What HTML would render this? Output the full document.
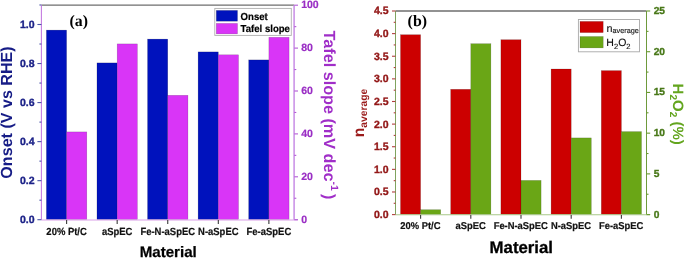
<!DOCTYPE html>
<html><head><meta charset="utf-8"><style>
html,body{margin:0;padding:0;background:#fff;width:685px;height:259px;overflow:hidden}
svg{display:block;will-change:transform}
text{font-family:"Liberation Sans",sans-serif;text-rendering:geometricPrecision}
.tl{font-size:10.5px;font-weight:bold}
.xl{font-size:9.45px;font-weight:bold;fill:#111}
.xt{font-weight:bold;fill:#000}
.yt{font-weight:bold}
.lab{font-family:"Liberation Serif",serif;font-weight:bold;font-size:15.5px;fill:#000}
.lg{font-size:9.6px;font-weight:bold;fill:#000}
.lgr{fill:#111;stroke:#111;stroke-width:0.12}
.bar{stroke:#000;stroke-opacity:0.28;stroke-width:0.5}
</style></head><body>
<svg width="685" height="259" viewBox="0 0 685 259">
<rect x="46.4" y="30.1" width="20.2" height="189.35" fill="#0012bd" class="bar"/>
<rect x="96.97" y="62.9" width="20.2" height="156.55" fill="#0012bd" class="bar"/>
<rect x="147.54" y="39.1" width="20.2" height="180.35" fill="#0012bd" class="bar"/>
<rect x="198.11" y="51.9" width="20.2" height="167.55" fill="#0012bd" class="bar"/>
<rect x="248.68" y="59.9" width="20.2" height="159.55" fill="#0012bd" class="bar"/>
<rect x="66.6" y="131.9" width="20.2" height="87.55" fill="#d935f7" class="bar"/>
<rect x="117.17" y="43.9" width="20.2" height="175.55" fill="#d935f7" class="bar"/>
<rect x="167.74" y="95.3" width="20.2" height="124.15" fill="#d935f7" class="bar"/>
<rect x="218.31" y="54.8" width="20.2" height="164.65" fill="#d935f7" class="bar"/>
<rect x="268.88" y="37.3" width="20.2" height="182.15" fill="#d935f7" class="bar"/>
<line x1="41.4" y1="5.2" x2="294.3" y2="5.2" stroke="#6e6e6e" stroke-width="1.3"/>
<line x1="41.4" y1="5.2" x2="41.4" y2="219.7" stroke="#c57ce0" stroke-width="1.1"/>
<line x1="294.1" y1="5.2" x2="294.1" y2="219.7" stroke="#c88de6" stroke-width="1.5"/>
<line x1="41.4" y1="219.95" x2="297.8" y2="219.95" stroke="#d9a0e8" stroke-width="1.1"/>
<line x1="37.4" y1="219.7" x2="41.4" y2="219.7" stroke="#4a55a8" stroke-width="1.1"/>
<line x1="39.4" y1="200.18" x2="41.4" y2="200.18" stroke="#4a55a8" stroke-width="1.1"/>
<line x1="37.4" y1="180.66" x2="41.4" y2="180.66" stroke="#4a55a8" stroke-width="1.1"/>
<line x1="39.4" y1="161.14" x2="41.4" y2="161.14" stroke="#4a55a8" stroke-width="1.1"/>
<line x1="37.4" y1="141.62" x2="41.4" y2="141.62" stroke="#4a55a8" stroke-width="1.1"/>
<line x1="39.4" y1="122.1" x2="41.4" y2="122.1" stroke="#4a55a8" stroke-width="1.1"/>
<line x1="37.4" y1="102.58" x2="41.4" y2="102.58" stroke="#4a55a8" stroke-width="1.1"/>
<line x1="39.4" y1="83.06" x2="41.4" y2="83.06" stroke="#4a55a8" stroke-width="1.1"/>
<line x1="37.4" y1="63.54" x2="41.4" y2="63.54" stroke="#4a55a8" stroke-width="1.1"/>
<line x1="39.4" y1="44.02" x2="41.4" y2="44.02" stroke="#4a55a8" stroke-width="1.1"/>
<line x1="37.4" y1="24.5" x2="41.4" y2="24.5" stroke="#4a55a8" stroke-width="1.1"/>
<line x1="39.4" y1="4.98" x2="41.4" y2="4.98" stroke="#4a55a8" stroke-width="1.1"/>
<text x="34.5" y="223.1" text-anchor="end" class="tl" fill="#1c2288" stroke="#1c2288" stroke-width="0.35">0.0</text>
<text x="34.5" y="184.06" text-anchor="end" class="tl" fill="#1c2288" stroke="#1c2288" stroke-width="0.35">0.2</text>
<text x="34.5" y="145.02" text-anchor="end" class="tl" fill="#1c2288" stroke="#1c2288" stroke-width="0.35">0.4</text>
<text x="34.5" y="105.98" text-anchor="end" class="tl" fill="#1c2288" stroke="#1c2288" stroke-width="0.35">0.6</text>
<text x="34.5" y="66.94" text-anchor="end" class="tl" fill="#1c2288" stroke="#1c2288" stroke-width="0.35">0.8</text>
<text x="34.5" y="27.9" text-anchor="end" class="tl" fill="#1c2288" stroke="#1c2288" stroke-width="0.35">1.0</text>
<line x1="294.3" y1="219.7" x2="298" y2="219.7" stroke="#b35ad6" stroke-width="1.1"/>
<line x1="294.3" y1="198.25" x2="296.3" y2="198.25" stroke="#b35ad6" stroke-width="1.1"/>
<line x1="294.3" y1="176.8" x2="298" y2="176.8" stroke="#b35ad6" stroke-width="1.1"/>
<line x1="294.3" y1="155.35" x2="296.3" y2="155.35" stroke="#b35ad6" stroke-width="1.1"/>
<line x1="294.3" y1="133.9" x2="298" y2="133.9" stroke="#b35ad6" stroke-width="1.1"/>
<line x1="294.3" y1="112.45" x2="296.3" y2="112.45" stroke="#b35ad6" stroke-width="1.1"/>
<line x1="294.3" y1="91" x2="298" y2="91" stroke="#b35ad6" stroke-width="1.1"/>
<line x1="294.3" y1="69.55" x2="296.3" y2="69.55" stroke="#b35ad6" stroke-width="1.1"/>
<line x1="294.3" y1="48.1" x2="298" y2="48.1" stroke="#b35ad6" stroke-width="1.1"/>
<line x1="294.3" y1="26.65" x2="296.3" y2="26.65" stroke="#b35ad6" stroke-width="1.1"/>
<line x1="294.3" y1="5.2" x2="298" y2="5.2" stroke="#b35ad6" stroke-width="1.1"/>
<text x="301.2" y="222.8" class="tl" fill="#9a2ec4" stroke="#9a2ec4" stroke-width="0.2">0</text>
<text x="301.2" y="179.9" class="tl" fill="#9a2ec4" stroke="#9a2ec4" stroke-width="0.2">20</text>
<text x="301.2" y="137" class="tl" fill="#9a2ec4" stroke="#9a2ec4" stroke-width="0.2">40</text>
<text x="301.2" y="94.1" class="tl" fill="#9a2ec4" stroke="#9a2ec4" stroke-width="0.2">60</text>
<text x="301.2" y="51.2" class="tl" fill="#9a2ec4" stroke="#9a2ec4" stroke-width="0.2">80</text>
<text x="301.2" y="8.3" class="tl" fill="#9a2ec4" stroke="#9a2ec4" stroke-width="0.2">100</text>
<line x1="66.6" y1="220" x2="66.6" y2="224" stroke="#3a3a3a" stroke-width="1.1"/>
<line x1="117.17" y1="220" x2="117.17" y2="224" stroke="#3a3a3a" stroke-width="1.1"/>
<line x1="167.74" y1="220" x2="167.74" y2="224" stroke="#3a3a3a" stroke-width="1.1"/>
<line x1="218.31" y1="220" x2="218.31" y2="224" stroke="#3a3a3a" stroke-width="1.1"/>
<line x1="268.88" y1="220" x2="268.88" y2="224" stroke="#3a3a3a" stroke-width="1.1"/>
<text transform="translate(66.6,234.7) scale(0.91,1)" text-anchor="middle" class="xl" style="font-size:10.4px" stroke="#111" stroke-width="0.2">20% Pt/C</text>
<text transform="translate(117.17,234.7) scale(0.91,1)" text-anchor="middle" class="xl" style="font-size:10.4px" stroke="#111" stroke-width="0.2">aSpEC</text>
<text transform="translate(167.74,234.7) scale(0.91,1)" text-anchor="middle" class="xl" style="font-size:10.4px" stroke="#111" stroke-width="0.2">Fe-N-aSpEC</text>
<text transform="translate(218.31,234.7) scale(0.91,1)" text-anchor="middle" class="xl" style="font-size:10.4px" stroke="#111" stroke-width="0.2">N-aSpEC</text>
<text transform="translate(268.88,234.7) scale(0.91,1)" text-anchor="middle" class="xl" style="font-size:10.4px" stroke="#111" stroke-width="0.2">Fe-aSpEC</text>
<text x="139.7" y="257.4" class="xt" style="font-size:15.1px" stroke="#000" stroke-width="0.25">Material</text>
<text transform="translate(12.4,112.5) rotate(-90)" text-anchor="middle" class="yt" fill="#161c86" style="font-size:16.1px">Onset (V vs RHE)</text>
<text transform="translate(324,30.6) rotate(90)" class="yt" fill="#a02ec8" style="font-size:16.2px">Tafel slope (mV dec<tspan dy="-6.5" style="font-size:10.5px">-1</tspan><tspan dy="6.5" dx="-1.2"> )</tspan></text>
<text x="69.5" y="25.9" class="lab" style="font-size:15.8px">(a)</text>
<rect x="214.8" y="8.4" width="76.5" height="27" fill="#fff" stroke="#b0b0b0" stroke-width="0.9"/>
<rect x="216.3" y="10.4" width="21.2" height="10.8" fill="#0012bd" class="bar"/>
<rect x="216.3" y="23.4" width="21.2" height="10.5" fill="#d935f7" class="bar"/>
<text transform="translate(240.6,19.5) scale(0.94,1)" class="lg" style="font-size:10.2px" stroke="#000" stroke-width="0.2">Onset</text>
<text transform="translate(240.6,31.8) scale(0.94,1)" class="lg" style="font-size:10.2px" stroke="#000" stroke-width="0.2">Tafel slope</text>
<rect x="400.5" y="34.7" width="20.1" height="179.65" fill="#cc0000" class="bar"/>
<rect x="450.7" y="89.3" width="20.1" height="125.05" fill="#cc0000" class="bar"/>
<rect x="500.9" y="39.7" width="20.1" height="174.65" fill="#cc0000" class="bar"/>
<rect x="551.1" y="69" width="20.1" height="145.35" fill="#cc0000" class="bar"/>
<rect x="601.3" y="70.6" width="20.1" height="143.75" fill="#cc0000" class="bar"/>
<rect x="420.6" y="209.7" width="20.1" height="4.65" fill="#6aa616" class="bar"/>
<rect x="470.8" y="43.7" width="20.1" height="170.65" fill="#6aa616" class="bar"/>
<rect x="521" y="180.4" width="20.1" height="33.95" fill="#6aa616" class="bar"/>
<rect x="571.2" y="137.9" width="20.1" height="76.45" fill="#6aa616" class="bar"/>
<rect x="621.4" y="131.6" width="20.1" height="82.75" fill="#6aa616" class="bar"/>
<line x1="395.5" y1="11" x2="646.5" y2="11" stroke="#6e6e6e" stroke-width="1.3"/>
<line x1="395.5" y1="11" x2="395.5" y2="214.6" stroke="#7fa35f" stroke-width="1"/>
<line x1="646.5" y1="11" x2="646.5" y2="214.6" stroke="#6e9a3c" stroke-width="1.05"/>
<line x1="395.5" y1="214.8" x2="650" y2="214.8" stroke="#a8c888" stroke-width="1.1"/>
<line x1="392" y1="214.6" x2="395.5" y2="214.6" stroke="#b04040" stroke-width="1.1"/>
<line x1="393.7" y1="203.29" x2="395.5" y2="203.29" stroke="#b04040" stroke-width="1.1"/>
<line x1="392" y1="191.98" x2="395.5" y2="191.98" stroke="#b04040" stroke-width="1.1"/>
<line x1="393.7" y1="180.67" x2="395.5" y2="180.67" stroke="#b04040" stroke-width="1.1"/>
<line x1="392" y1="169.36" x2="395.5" y2="169.36" stroke="#b04040" stroke-width="1.1"/>
<line x1="393.7" y1="158.04" x2="395.5" y2="158.04" stroke="#b04040" stroke-width="1.1"/>
<line x1="392" y1="146.73" x2="395.5" y2="146.73" stroke="#b04040" stroke-width="1.1"/>
<line x1="393.7" y1="135.42" x2="395.5" y2="135.42" stroke="#b04040" stroke-width="1.1"/>
<line x1="392" y1="124.11" x2="395.5" y2="124.11" stroke="#b04040" stroke-width="1.1"/>
<line x1="393.7" y1="112.8" x2="395.5" y2="112.8" stroke="#b04040" stroke-width="1.1"/>
<line x1="392" y1="101.49" x2="395.5" y2="101.49" stroke="#b04040" stroke-width="1.1"/>
<line x1="393.7" y1="90.18" x2="395.5" y2="90.18" stroke="#b04040" stroke-width="1.1"/>
<line x1="392" y1="78.87" x2="395.5" y2="78.87" stroke="#b04040" stroke-width="1.1"/>
<line x1="393.7" y1="67.56" x2="395.5" y2="67.56" stroke="#b04040" stroke-width="1.1"/>
<line x1="392" y1="56.24" x2="395.5" y2="56.24" stroke="#b04040" stroke-width="1.1"/>
<line x1="393.7" y1="44.93" x2="395.5" y2="44.93" stroke="#b04040" stroke-width="1.1"/>
<line x1="392" y1="33.62" x2="395.5" y2="33.62" stroke="#b04040" stroke-width="1.1"/>
<line x1="393.7" y1="22.31" x2="395.5" y2="22.31" stroke="#b04040" stroke-width="1.1"/>
<line x1="392" y1="11" x2="395.5" y2="11" stroke="#b04040" stroke-width="1.1"/>
<text x="388.6" y="218" text-anchor="end" class="tl" fill="#921616" stroke="#921616" stroke-width="0.35">0.0</text>
<text x="388.6" y="195.38" text-anchor="end" class="tl" fill="#921616" stroke="#921616" stroke-width="0.35">0.5</text>
<text x="388.6" y="172.76" text-anchor="end" class="tl" fill="#921616" stroke="#921616" stroke-width="0.35">1.0</text>
<text x="388.6" y="150.13" text-anchor="end" class="tl" fill="#921616" stroke="#921616" stroke-width="0.35">1.5</text>
<text x="388.6" y="127.51" text-anchor="end" class="tl" fill="#921616" stroke="#921616" stroke-width="0.35">2.0</text>
<text x="388.6" y="104.89" text-anchor="end" class="tl" fill="#921616" stroke="#921616" stroke-width="0.35">2.5</text>
<text x="388.6" y="82.27" text-anchor="end" class="tl" fill="#921616" stroke="#921616" stroke-width="0.35">3.0</text>
<text x="388.6" y="59.64" text-anchor="end" class="tl" fill="#921616" stroke="#921616" stroke-width="0.35">3.5</text>
<text x="388.6" y="37.02" text-anchor="end" class="tl" fill="#921616" stroke="#921616" stroke-width="0.35">4.0</text>
<text x="388.6" y="14.4" text-anchor="end" class="tl" fill="#921616" stroke="#921616" stroke-width="0.35">4.5</text>
<line x1="646.5" y1="214.6" x2="650.2" y2="214.6" stroke="#6a9a30" stroke-width="1.1"/>
<line x1="646.5" y1="194.24" x2="648.5" y2="194.24" stroke="#6a9a30" stroke-width="1.1"/>
<line x1="646.5" y1="173.88" x2="650.2" y2="173.88" stroke="#6a9a30" stroke-width="1.1"/>
<line x1="646.5" y1="153.52" x2="648.5" y2="153.52" stroke="#6a9a30" stroke-width="1.1"/>
<line x1="646.5" y1="133.16" x2="650.2" y2="133.16" stroke="#6a9a30" stroke-width="1.1"/>
<line x1="646.5" y1="112.8" x2="648.5" y2="112.8" stroke="#6a9a30" stroke-width="1.1"/>
<line x1="646.5" y1="92.44" x2="650.2" y2="92.44" stroke="#6a9a30" stroke-width="1.1"/>
<line x1="646.5" y1="72.08" x2="648.5" y2="72.08" stroke="#6a9a30" stroke-width="1.1"/>
<line x1="646.5" y1="51.72" x2="650.2" y2="51.72" stroke="#6a9a30" stroke-width="1.1"/>
<line x1="646.5" y1="31.36" x2="648.5" y2="31.36" stroke="#6a9a30" stroke-width="1.1"/>
<line x1="646.5" y1="11" x2="650.2" y2="11" stroke="#6a9a30" stroke-width="1.1"/>
<text x="653.7" y="217.5" class="tl" fill="#487818" stroke="#487818" stroke-width="0.35" style="font-size:10.2px">0</text>
<text x="653.7" y="176.78" class="tl" fill="#487818" stroke="#487818" stroke-width="0.35" style="font-size:10.2px">5</text>
<text x="653.7" y="136.06" class="tl" fill="#487818" stroke="#487818" stroke-width="0.35" style="font-size:10.2px">10</text>
<text x="653.7" y="95.34" class="tl" fill="#487818" stroke="#487818" stroke-width="0.35" style="font-size:10.2px">15</text>
<text x="653.7" y="54.62" class="tl" fill="#487818" stroke="#487818" stroke-width="0.35" style="font-size:10.2px">20</text>
<text x="653.7" y="13.9" class="tl" fill="#487818" stroke="#487818" stroke-width="0.35" style="font-size:10.2px">25</text>
<line x1="420.6" y1="214.9" x2="420.6" y2="218.7" stroke="#3a3a3a" stroke-width="1.1"/>
<line x1="470.8" y1="214.9" x2="470.8" y2="218.7" stroke="#3a3a3a" stroke-width="1.1"/>
<line x1="521" y1="214.9" x2="521" y2="218.7" stroke="#3a3a3a" stroke-width="1.1"/>
<line x1="571.2" y1="214.9" x2="571.2" y2="218.7" stroke="#3a3a3a" stroke-width="1.1"/>
<line x1="621.4" y1="214.9" x2="621.4" y2="218.7" stroke="#3a3a3a" stroke-width="1.1"/>
<text transform="translate(420.35,229) scale(0.95,1)" text-anchor="middle" class="xl" style="font-size:9.9px" stroke="#111" stroke-width="0.2">20% Pt/C</text>
<text transform="translate(470.55,229) scale(0.95,1)" text-anchor="middle" class="xl" style="font-size:9.9px" stroke="#111" stroke-width="0.2">aSpEC</text>
<text transform="translate(520.75,229) scale(0.95,1)" text-anchor="middle" class="xl" style="font-size:9.9px" stroke="#111" stroke-width="0.2">Fe-N-aSpEC</text>
<text transform="translate(570.95,229) scale(0.95,1)" text-anchor="middle" class="xl" style="font-size:9.9px" stroke="#111" stroke-width="0.2">N-aSpEC</text>
<text transform="translate(621.15,229) scale(0.95,1)" text-anchor="middle" class="xl" style="font-size:9.9px" stroke="#111" stroke-width="0.2">Fe-aSpEC</text>
<text x="489.6" y="252.6" class="xt" style="font-size:16.8px" stroke="#000" stroke-width="0.3">Material</text>
<text transform="translate(363.5,137.2) rotate(-90)" class="yt" fill="#9b1b1b" style="font-size:15.6px">n<tspan dy="3.5" style="font-size:10.3px">average</tspan></text>
<text transform="translate(673.2,83.6) rotate(90)" class="yt" fill="#63a51e" style="font-size:15px">H<tspan dy="3.5" style="font-size:10px">2</tspan><tspan dy="-3.5">O</tspan><tspan dy="3.5" style="font-size:10px">2</tspan><tspan dy="-3.5"> (%)</tspan></text>
<text x="407.6" y="26.1" class="lab" style="font-size:15.9px">(b)</text>
<rect x="578.4" y="19.5" width="61.1" height="32.3" fill="#fff" stroke="#a8a8a8" stroke-width="0.9"/>
<rect x="580" y="21.4" width="23.2" height="11.2" fill="#cc0000" class="bar"/>
<rect x="580" y="36.5" width="23.2" height="11.4" fill="#6aa616" class="bar"/>
<text x="606.5" y="31.6" class="lgr" style="font-size:10.8px">n<tspan dy="1.7" style="font-size:7.3px">average</tspan></text>
<text x="606.3" y="46.4" class="lgr" style="font-size:10.5px">H<tspan dy="2.5" style="font-size:7.6px">2</tspan><tspan dy="-2.5">O</tspan><tspan dy="2.5" style="font-size:7.6px">2</tspan></text>
</svg>
</body></html>
